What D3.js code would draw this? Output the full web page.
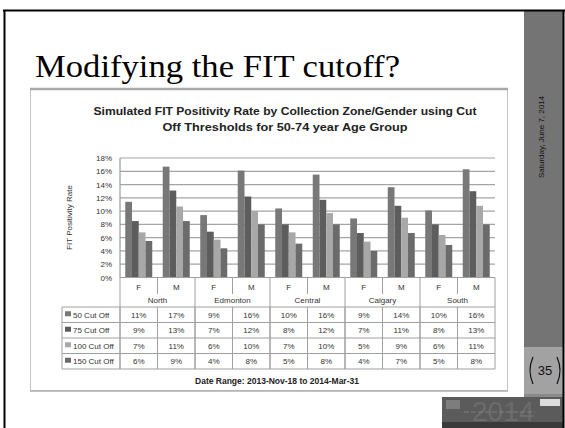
<!DOCTYPE html>
<html><head><meta charset="utf-8">
<script src="https://cdn.jsdelivr.net/npm/d3@7"></script>
<style>body{margin:0;background:#fff}svg{display:block}</style>
</head><body>
<svg id="c" width="565" height="428"></svg>
<script>
const zones = ["North","Edmonton","Central","Calgary","South"];
const genders = ["F","M"];
const seriesNames = ["50 Cut Off","75 Cut Off","100 Cut Off","150 Cut Off"];
const cut50  = [11.4,16.7,9.4,16.1,10.4,15.5,8.9,13.6,10.1,16.3];
const cut75  = [8.5,13.1,6.9,12.2,8.0,11.7,6.7,10.8,8.0,13.0];
const cut100 = [6.8,10.7,5.7,10.0,6.8,9.7,5.4,9.0,6.4,10.8];
const cut150 = [5.5,8.5,4.4,8.0,5.1,8.0,4.0,6.7,4.9,8.0];
const yTicks = [0,2,4,6,8,10,12,14,16,18];
const colors = ["#787878","#5d5d5d","#a8a8a8","#6b6b6b"];

const series = [cut50,cut75,cut100,cut150];
const cats = [];
zones.forEach(z => genders.forEach(g => cats.push(z+"|"+g)));

const svg = d3.select("#c");

// slide frame
svg.append("rect").attr("x",0).attr("y",0).attr("width",565).attr("height",428).attr("fill","#fff");
svg.append("rect").attr("x",524).attr("y",11).attr("width",39).attr("height",336).attr("fill","#747474");
svg.append("rect").attr("x",524).attr("y",347).attr("width",39).attr("height",47).attr("fill","#a2a2a2");
svg.append("rect").attr("x",524).attr("y",394).attr("width",39).attr("height",4).attr("fill","#8a8a8a");
// logo band
svg.append("rect").attr("x",442).attr("y",397).attr("width",121).attr("height",25).attr("fill","#5b5b5b");
svg.append("rect").attr("x",442).attr("y",422).attr("width",121).attr("height",6).attr("fill","#3a3a3a");
svg.append("text").attr("x",472).attr("y",421).attr("font-family","Liberation Sans, Arial").attr("font-size",28)
  .attr("fill","#6c6c6c").text("2014");
svg.append("rect").attr("x",446).attr("y",400).attr("width",14).attr("height",9).attr("fill","#7d7d7d");
svg.append("rect").attr("x",540).attr("y",399).attr("width",20).attr("height",7).attr("fill","#dcdcdc");
svg.append("line").attr("x1",464).attr("x2",535).attr("y1",412).attr("y2",412).attr("stroke","#858585").attr("stroke-width",0.8).attr("stroke-dasharray","5,2");

svg.append("line").attr("x1",3).attr("x2",565).attr("y1",10.5).attr("y2",10.5).attr("stroke","#000").attr("stroke-width",2);
svg.append("line").attr("x1",4.5).attr("x2",4.5).attr("y1",10).attr("y2",428).attr("stroke","#000").attr("stroke-width",2);
svg.append("line").attr("x1",563.5).attr("x2",563.5).attr("y1",10).attr("y2",428).attr("stroke","#000").attr("stroke-width",2);

// date vertical
svg.append("text").attr("transform","translate(544,137) rotate(-90)").attr("text-anchor","middle")
  .attr("font-family","Liberation Sans, Arial").attr("font-size",8).attr("fill","#111")
  .text("Saturday, June 7, 2014");
// page number with brackets
svg.append("text").attr("x",545).attr("y",375).attr("text-anchor","middle")
  .attr("font-family","Liberation Sans, Arial").attr("font-size",13).attr("fill","#111").text("35");
svg.append("path").attr("d","M533,357 Q527,370.5 533,384").attr("fill","none").attr("stroke","#111").attr("stroke-width",1.2);
svg.append("path").attr("d","M557,357 Q563,370.5 557,384").attr("fill","none").attr("stroke","#111").attr("stroke-width",1.2);

// slide title
svg.append("text").attr("x",35).attr("y",77).attr("font-family","Liberation Serif, Times New Roman, serif")
  .attr("font-size",32).attr("fill","#000").attr("textLength",365).attr("lengthAdjust","spacingAndGlyphs")
  .text("Modifying the FIT cutoff?");

// chart picture frame
svg.append("rect").attr("x",30.5).attr("y",89.5).attr("width",477).attr("height",301).attr("fill","#fff")
  .attr("stroke","#c4c4c4").attr("stroke-width",1);
svg.append("line").attr("x1",30).attr("x2",508).attr("y1",89).attr("y2",89).attr("stroke","#a8a8a8").attr("stroke-width",2.5);
svg.append("line").attr("x1",30).attr("x2",508).attr("y1",391).attr("y2",391).attr("stroke","#b0b0b0").attr("stroke-width",1.5);

const font = "Liberation Sans, Arial, sans-serif";
// chart title
svg.append("text").attr("x",285).attr("y",115).attr("text-anchor","middle").attr("font-family",font)
  .attr("font-weight","bold").attr("font-size",10).attr("fill","#222").attr("textLength",383).attr("lengthAdjust","spacingAndGlyphs")
  .text("Simulated FIT Positivity Rate by Collection Zone/Gender using Cut");
svg.append("text").attr("x",285).attr("y",131).attr("text-anchor","middle").attr("font-family",font)
  .attr("font-weight","bold").attr("font-size",10).attr("fill","#222").attr("textLength",245).attr("lengthAdjust","spacingAndGlyphs")
  .text("Off Thresholds for 50-74 year Age Group");

// scales
const x0 = 120, x1 = 495;
const x = d3.scaleBand().domain(cats).range([x0,x1]).paddingInner(0).paddingOuter(0);
const xs = d3.scaleBand().domain(d3.range(4)).range([5.25, x.bandwidth()-5.25]);
const y = d3.scaleLinear().domain([0,18]).range([277.5,158]);

// gridlines
svg.append("g").selectAll("line").data(yTicks).join("line")
  .attr("x1",x0).attr("x2",x1).attr("y1",d=>y(d)).attr("y2",d=>y(d))
  .attr("stroke","#a4a4a4").attr("stroke-width",1.2);
svg.append("line").attr("x1",x0).attr("x2",x0).attr("y1",y(18)).attr("y2",y(0)).attr("stroke","#999").attr("stroke-width",1.2);

// y axis labels
const yAxis = d3.axisLeft(y).tickValues(yTicks).tickFormat(d=>d+"%").tickSize(0).tickPadding(8);
const ya = svg.append("g").attr("transform",`translate(${x0},0)`).call(yAxis);
ya.select(".domain").remove();
ya.selectAll("text").attr("font-family",font).attr("font-size",8).attr("fill","#333");

svg.append("text").attr("transform","translate(72,217.5) rotate(-90)").attr("text-anchor","middle")
  .attr("font-family",font).attr("font-size",8).attr("fill","#333").text("FIT Positivity Rate");

// bars
series.forEach((vals,si) => {
  svg.append("g").selectAll("rect").data(vals).join("rect")
    .attr("x",(d,i)=>x(cats[i])+xs(si)).attr("width",xs.bandwidth())
    .attr("y",d=>y(d)).attr("height",d=>y(0)-y(d)).attr("fill",colors[si]);
});

// table
const tL = 62, rowY = [307,322.5,338,353.5,369];
const tbl = svg.append("g").attr("stroke","#a0a0a0").attr("stroke-width",1);
rowY.forEach(ry => tbl.append("line").attr("x1",tL).attr("x2",x1).attr("y1",ry).attr("y2",ry));
tbl.append("line").attr("x1",tL).attr("x2",tL).attr("y1",rowY[0]).attr("y2",rowY[4]);
tbl.append("line").attr("x1",x0).attr("x2",x1).attr("y1",y(0)).attr("y2",y(0));
cats.forEach((c,i) => {
  const bx = x(c);
  const isZone = i % 2 === 0;
  tbl.append("line").attr("x1",bx).attr("x2",bx).attr("y1",y(0)).attr("y2", isZone ? rowY[4] : 294);
  tbl.append("line").attr("x1",bx).attr("x2",bx).attr("y1",rowY[0]).attr("y2",rowY[4]);
});
tbl.append("line").attr("x1",x1).attr("x2",x1).attr("y1",y(0)).attr("y2",rowY[4]);

// gender labels
svg.append("g").selectAll("text").data(cats).join("text")
  .attr("x",d=>x(d)+x.bandwidth()/2).attr("y",289.5).attr("text-anchor","middle")
  .attr("font-family",font).attr("font-size",8).attr("fill","#333").text(d=>d.split("|")[1]);
// zone labels
svg.append("g").selectAll("text").data(zones).join("text")
  .attr("x",(d,i)=>x(cats[i*2])+x.bandwidth()).attr("y",302.5).attr("text-anchor","middle")
  .attr("font-family",font).attr("font-size",8).attr("fill","#333").text(d=>d);

// rows
series.forEach((vals,si) => {
  const cy = (rowY[si]+rowY[si+1])/2 + 3;
  svg.append("rect").attr("x",65).attr("y",cy-6.5).attr("width",6).attr("height",5).attr("fill",colors[si]);
  svg.append("text").attr("x",73).attr("y",cy).attr("font-family",font).attr("font-size",8).attr("fill","#333")
    .text(seriesNames[si]);
  svg.append("g").selectAll("text").data(vals).join("text")
    .attr("x",(d,i)=>x(cats[i])+x.bandwidth()/2).attr("y",cy).attr("text-anchor","middle")
    .attr("font-family",font).attr("font-size",8).attr("fill","#333").text(d=>Math.round(d)+"%");
});

svg.append("text").attr("x",277).attr("y",384).attr("text-anchor","middle").attr("font-family",font)
  .attr("font-weight","bold").attr("font-size",8.5).attr("fill","#222")
  .text("Date Range: 2013-Nov-18 to 2014-Mar-31");
</script>
</body></html>
